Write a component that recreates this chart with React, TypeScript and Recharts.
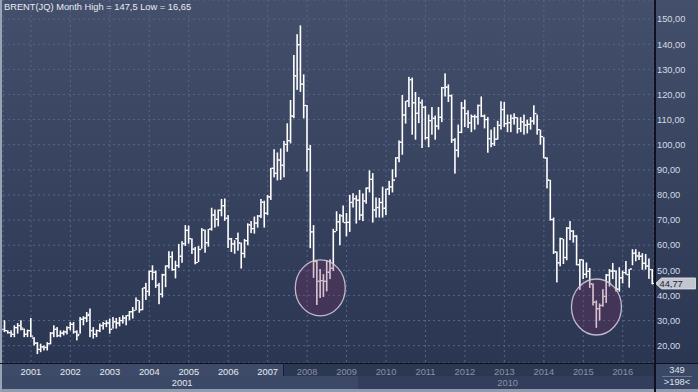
import React from 'react';
import { ComposedChart, Bar, XAxis, YAxis, CartesianGrid, ReferenceLine, ReferenceDot } from 'recharts';

// Brent monthly bars, Jan 2001 - Jun 2017 (one line per year)
const startYear = 2001;
const barCount = 198;

const opens = [
  26.5, 26.0, 25.2, 24.5, 27.2, 28.0, 26.5, 24.5, 26.0, 23.0, 21.0, 18.5,
  19.5, 19.3, 20.8, 25.0, 26.5, 24.0, 25.0, 25.5, 27.2, 28.5, 25.5, 24.5,
  30.5, 31.0, 32.5, 26.0, 24.5, 26.0, 28.0, 28.8, 29.0, 26.5, 29.5, 29.0,
  30.0, 31.0, 32.0, 33.5, 34.0, 38.0, 34.3, 43.0, 41.6, 49.6, 49.2, 44.0,
  40.5, 48.2, 51.7, 55.4, 50.3, 51.9, 55.6, 60.6, 65.9, 62.6, 58.4, 53.1,
  58.3, 66.0, 61.0, 66.4, 72.0, 70.3, 73.9, 75.7, 70.7, 62.5, 60.5, 62.6,
  60.9, 56.7, 61.8, 68.1, 66.6, 68.8, 71.6, 77.1, 72.7, 79.2, 90.6, 88.6,
  93.9, 91.8, 100.1, 101.6, 111.4, 127.4, 139.8, 124.1, 115.6, 98.2, 65.3, 53.5,
  45.6, 45.9, 45.6, 49.2, 50.8, 65.4, 69.3, 71.7, 69.0, 69.1, 77.0, 78.5,
  77.9, 72.0, 77.6, 82.7, 86.2, 74.0, 75.0, 77.0, 74.7, 82.3, 83.2, 85.9,
  94.8, 101.0, 111.8, 117.4, 125.9, 116.7, 112.5, 116.7, 114.9, 102.8, 109.6, 110.5,
  107.4, 110.9, 122.7, 122.9, 119.5, 101.9, 97.8, 104.9, 114.6, 112.4, 108.7, 111.2,
  111.1, 115.6, 111.4, 110.0, 102.4, 100.4, 102.2, 107.7, 114.0, 108.4, 108.8, 110.5,
  110.8, 106.4, 109.1, 107.8, 108.1, 109.4, 112.4, 106.0, 103.2, 94.7, 85.9, 70.2,
  57.3, 53.0, 62.6, 55.1, 66.8, 65.6, 63.6, 52.2, 54.2, 48.4, 49.6, 44.6,
  37.3, 34.7, 36.0, 39.6, 48.1, 49.7, 49.7, 42.5, 47.0, 49.1, 48.3, 50.5,
  56.8, 55.7, 55.6, 52.8, 51.7, 50.3,
];

const highs = [
  30.1, 26.1, 26.1, 28.1, 29.0, 30.1, 26.8, 26.4, 31.0, 23.4, 21.4, 20.8,
  20.1, 21.4, 25.4, 28.1, 27.4, 26.1, 26.1, 27.7, 29.4, 29.4, 26.1, 31.4,
  31.7, 33.4, 34.8, 27.4, 26.4, 28.8, 29.4, 30.1, 30.8, 31.4, 31.0, 31.4,
  32.1, 32.1, 33.8, 35.4, 39.2, 38.0, 43.0, 45.0, 49.9, 52.0, 49.9, 45.0,
  48.6, 52.0, 57.6, 57.5, 53.8, 60.5, 61.6, 68.0, 67.8, 62.7, 59.3, 59.7,
  66.8, 66.2, 66.4, 74.9, 74.2, 74.2, 78.4, 78.6, 72.0, 62.9, 62.0, 65.0,
  61.0, 62.5, 68.7, 69.6, 71.4, 72.0, 78.4, 77.7, 80.0, 90.8, 98.2, 96.9,
  98.5, 101.5, 108.5, 117.8, 135.7, 144.0, 147.5, 128.0, 115.8, 99.9, 68.0, 54.1,
  50.5, 48.5, 54.0, 54.3, 66.5, 73.5, 72.4, 75.8, 72.8, 80.0, 80.7, 79.9,
  82.0, 80.6, 83.0, 89.8, 88.7, 79.0, 78.8, 83.3, 82.5, 85.6, 90.2, 95.0,
  101.7, 119.8, 117.4, 127.0, 126.7, 121.0, 119.0, 118.0, 115.4, 112.0, 115.0, 111.6,
  115.0, 123.0, 128.4, 124.0, 120.0, 102.6, 108.0, 117.0, 117.9, 113.7, 112.0, 112.0,
  116.0, 119.2, 112.0, 111.0, 106.0, 107.0, 109.5, 117.3, 117.0, 112.0, 112.0, 112.5,
  110.9, 111.0, 112.0, 110.0, 111.0, 115.7, 112.0, 106.0, 103.0, 95.0, 86.0, 71.0,
  57.5, 63.0, 62.5, 67.2, 69.6, 66.0, 64.0, 54.5, 54.3, 53.1, 50.9, 44.8,
  38.0, 36.8, 42.5, 48.5, 50.5, 52.9, 50.0, 51.2, 49.9, 53.7, 50.5, 58.4,
  58.4, 57.4, 56.8, 56.5, 54.7, 50.5,
];

const lows = [
  25.4, 24.8, 23.4, 23.4, 24.8, 26.1, 23.4, 23.4, 23.4, 20.1, 16.65, 17.4,
  18.1, 18.1, 20.5, 23.4, 23.4, 23.4, 24.1, 24.5, 26.1, 24.8, 22.1, 24.8,
  28.1, 29.4, 23.4, 22.8, 23.4, 25.4, 26.4, 27.4, 24.8, 26.8, 26.8, 27.7,
  28.8, 28.1, 30.1, 30.8, 34.1, 33.1, 34.1, 38.2, 39.8, 46.1, 43.0, 36.5,
  39.2, 43.3, 50.7, 49.8, 46.8, 51.0, 53.0, 59.7, 60.6, 56.5, 52.4, 53.3,
  58.6, 57.0, 59.4, 65.8, 67.0, 67.5, 71.5, 69.7, 58.9, 57.3, 56.6, 57.8,
  50.7, 55.0, 60.0, 64.8, 64.6, 67.0, 70.8, 67.0, 72.0, 78.0, 87.0, 85.8,
  86.0, 87.0, 97.2, 100.5, 110.6, 121.8, 121.0, 110.5, 89.3, 58.8, 47.0, 36.2,
  39.0, 39.4, 41.6, 46.5, 49.7, 65.6, 60.0, 69.0, 63.5, 65.3, 75.0, 68.6,
  70.0, 69.6, 76.5, 81.0, 69.0, 71.0, 71.0, 71.0, 72.0, 80.0, 81.0, 87.0,
  93.0, 96.0, 108.4, 115.0, 104.0, 102.0, 108.6, 98.7, 102.0, 99.0, 104.0, 102.0,
  106.0, 109.0, 119.2, 117.0, 100.7, 88.5, 95.0, 104.6, 107.0, 106.6, 105.0, 106.0,
  108.0, 111.0, 106.5, 96.8, 99.0, 99.5, 102.0, 106.0, 107.0, 105.0, 105.0, 108.0,
  104.5, 105.0, 104.0, 104.5, 106.0, 108.0, 104.0, 100.0, 94.6, 82.6, 69.8, 56.5,
  45.2, 51.6, 52.5, 54.0, 62.0, 61.0, 52.0, 42.2, 46.5, 47.0, 43.0, 36.0,
  27.1, 30.0, 35.5, 37.0, 43.5, 46.5, 41.5, 41.5, 44.8, 48.3, 43.1, 52.0,
  53.6, 54.1, 50.2, 50.3, 46.6, 44.4,
];

const closes = [
  26.0, 25.2, 24.5, 27.2, 28.0, 27.0, 24.5, 26.0, 23.8, 21.0, 18.5, 19.5,
  19.3, 20.8, 25.0, 26.5, 24.0, 25.0, 25.5, 27.2, 28.5, 25.5, 24.0, 30.5,
  31.0, 32.0, 26.0, 24.5, 26.0, 28.0, 28.8, 29.0, 26.5, 29.5, 29.0, 30.0,
  31.0, 32.0, 33.5, 34.0, 38.0, 34.3, 43.0, 41.6, 49.6, 49.2, 44.0, 40.5,
  48.2, 51.7, 55.4, 50.3, 51.9, 55.6, 60.6, 65.9, 62.6, 58.4, 53.1, 58.3,
  66.0, 61.0, 66.4, 72.0, 70.3, 73.9, 75.7, 70.7, 62.5, 60.5, 62.6, 60.9,
  56.7, 61.8, 68.1, 66.6, 68.8, 71.6, 77.1, 72.7, 79.2, 90.6, 88.6, 93.9,
  91.8, 100.1, 101.6, 111.4, 127.4, 139.8, 124.1, 115.6, 98.2, 65.3, 53.5, 45.6,
  45.9, 45.6, 49.2, 50.8, 65.4, 69.3, 71.7, 69.0, 69.1, 77.0, 78.5, 77.9,
  72.0, 77.6, 82.7, 86.2, 74.0, 75.0, 77.0, 74.7, 82.3, 83.2, 85.9, 94.8,
  101.0, 111.8, 117.4, 125.9, 116.7, 112.5, 116.7, 114.9, 102.8, 109.6, 110.5, 107.4,
  110.9, 122.7, 122.9, 119.5, 101.9, 97.8, 104.9, 114.6, 112.4, 108.7, 111.2, 111.1,
  115.6, 111.4, 110.0, 102.4, 100.4, 102.2, 107.7, 114.0, 108.4, 108.8, 110.5, 110.8,
  106.4, 109.1, 107.8, 108.1, 109.4, 112.4, 106.0, 103.2, 94.7, 85.9, 70.2, 57.3,
  53.0, 62.6, 55.1, 66.8, 65.6, 63.6, 52.2, 54.2, 48.4, 49.6, 44.6, 37.3,
  34.7, 36.0, 39.6, 48.1, 49.7, 49.7, 42.5, 47.0, 49.1, 48.3, 50.5, 56.8,
  55.7, 55.6, 52.8, 51.7, 50.3, 44.77,
];

const yearTicks = [
  '2001-09', '2002-09', '2003-09', '2004-09', '2005-09', '2006-09', '2007-09', '2008-09',
  '2009-09', '2010-09', '2011-09', '2012-09', '2013-09', '2014-09', '2015-09', '2016-09',
];
const dimFromYear = 2008;

const decadeTicks = ['2005-07', '2013-10'];
const decadeNames = ['2001', '2010'];

const priceTicks = [20, 30, 40, 50, 60, 70, 80, 90, 100, 110, 120, 130, 140, 150];

// circled lows
const circleMonths = ['2009-01', '2016-01'];
const circleLevels = [43, 35.4];

const months: string[] = [];
for (let k = 0; k < barCount; k++) {
  const yr = startYear + Math.floor(k / 12);
  const mo = (k % 12) + 1;
  months.push(`${yr}-${mo < 10 ? '0' + mo : mo}`);
}

const data = months.map((m, i) => ({
  m,
  range: [lows[i], highs[i]],
  open: opens[i],
  high: highs[i],
  low: lows[i],
  close: closes[i],
}));

const lastClose = closes[closes.length - 1];
const fmt = (v: number) => v.toFixed(2).replace('.', ',');

const OhlcShape = (props: any) => {
  const { x, y, width, height, payload } = props;
  if (x == null || y == null) return null;
  const top = Math.min(y, y + height);
  const h = Math.abs(height);
  const cx = x + width / 2;
  const span = payload.high - payload.low || 1;
  const yOf = (v: number) => top + ((payload.high - v) / span) * h;
  const yo = yOf(payload.open);
  const yc = yOf(payload.close);
  return (
    <g fill="#ffffff">
      <rect x={cx - 0.8} y={top} width={1.6} height={Math.max(h, 1)} />
      <rect x={cx - 2.3} y={yo - 0.6} width={1.6} height={1.2} />
      <rect x={cx + 0.7} y={yc - 0.6} width={1.6} height={1.2} />
    </g>
  );
};

const YearTick = (props: any) => {
  const { x, y, payload } = props;
  const yr = Number(String(payload.value).slice(0, 4));
  return (
    <text x={x} y={y} dy="0.71em" textAnchor="middle" fontSize={9.3} fill={yr >= dimFromYear ? '#8892a8' : '#e6eaf2'}>
      {yr}
    </text>
  );
};

const DecadeTick = (props: any) => {
  const { x, y, payload } = props;
  const k = decadeTicks.indexOf(payload.value);
  return (
    <text x={x} y={y} dy="0.71em" textAnchor="middle" fontSize={9.3} fill={k === 0 ? '#e6eaf2' : '#8892a8'}>
      {decadeNames[k]}
    </text>
  );
};

const PriceTag = (props: any) => {
  const vb = props.viewBox || {};
  const x0 = vb.x + vb.width + 1.5;
  const yc = vb.y;
  const pts = `${x0},${yc} ${x0 + 6},${yc - 5.5} ${x0 + 40},${yc - 5.5} ${x0 + 40},${yc + 5.5} ${x0 + 6},${yc + 5.5}`;
  return (
    <g>
      <polygon points={pts} fill="#c2c6ce" stroke="#e4e6ea" strokeWidth={0.8} />
      <text x={x0 + 4} y={yc} dy="0.36em" fontSize={9.3} fill="#1b2340">
        {fmt(lastClose)}
      </text>
    </g>
  );
};

const Circle = (props: any) => (
  <ellipse
    cx={props.cx}
    cy={props.cy}
    rx={25}
    ry={28}
    fill="#7a2c5c"
    fillOpacity={0.28}
    stroke="#cfc8d6"
    strokeOpacity={0.9}
    strokeWidth={1.3}
  />
);

export default function App() {
  return (
    <div style={{ position: 'relative', width: 698, height: 392, overflow: 'hidden', fontFamily: '"Liberation Sans", Arial, sans-serif' }}>
      <style>{'body{margin:0}'}</style>
      {/* backgrounds */}
      <div style={{ position: 'absolute', left: 0, top: 0, width: 698, height: 363, background: 'linear-gradient(#434f6b, #2b3652)' }} />
      <div style={{ position: 'absolute', left: 0, top: 363, width: 283, height: 13, background: '#3d4b68' }} />
      <div style={{ position: 'absolute', left: 283, top: 363, width: 372, height: 13, background: '#2c3852', borderLeft: '1px solid #1a2033' }} />
      <div style={{ position: 'absolute', left: 0, top: 376, width: 358, height: 13, background: '#3b4966' }} />
      <div style={{ position: 'absolute', left: 358, top: 376, width: 297, height: 13, background: '#323e5b' }} />
      <div style={{ position: 'absolute', left: 655, top: 363, width: 43, height: 26, background: '#3a4765' }} />
      <div style={{ position: 'absolute', left: 0, top: 389, width: 698, height: 3, background: '#919bb0' }} />
      <div style={{ position: 'absolute', left: 0, top: 0, width: 2, height: 392, background: '#9aa3b5' }} />

      <div style={{ position: 'absolute', left: 0, top: 0 }}>
        <ComposedChart width={698} height={392} data={data} margin={{ top: 0, right: 0, left: 3, bottom: 0 }} barCategoryGap={0}>
          <CartesianGrid stroke="#56668a" strokeDasharray="2 3" />
          <XAxis
            dataKey="m"
            ticks={yearTicks}
            interval={0}
            height={13}
            axisLine={false}
            tickLine={false}
            tickSize={0}
            tickMargin={5}
            tick={<YearTick />}
          />
          <XAxis
            xAxisId="dec"
            dataKey="m"
            ticks={decadeTicks}
            interval={0}
            height={16}
            axisLine={false}
            tickLine={false}
            tickSize={0}
            tickMargin={3}
            tick={<DecadeTick />}
          />
          <YAxis
            orientation="right"
            width={44}
            type="number"
            domain={[13.1, 157.6]}
            allowDataOverflow
            ticks={priceTicks}
            interval={0}
            axisLine={false}
            tickLine={false}
            tickSize={0}
            tickMargin={3}
            tickFormatter={fmt}
            tick={{ fontSize: 9.3, fill: '#d4dae6', textAnchor: 'start' }}
          />
          <Bar dataKey="range" isAnimationActive={false} shape={<OhlcShape />} fill="#ffffff" />
          {circleMonths.map((m, k) => (
            <ReferenceDot key={m} x={m} y={circleLevels[k]} shape={<Circle />} />
          ))}
          <ReferenceLine y={lastClose} stroke="none" label={<PriceTag />} />
        </ComposedChart>
      </div>

      {/* frame lines */}
      <div style={{ position: 'absolute', left: 0, top: 362.5, width: 698, height: 1.5, background: '#0e1220' }} />
      <div style={{ position: 'absolute', left: 654, top: 0, width: 1.5, height: 392, background: '#0e1220' }} />

      <div style={{ position: 'absolute', left: 4, top: 2, fontSize: 9.3, lineHeight: '11px', color: '#e8ecf4', whiteSpace: 'nowrap' }}>
        BRENT(JQ) Month High = 147,5 Low = 16,65
      </div>
      <div style={{ position: 'absolute', left: 656, top: 365, width: 42, textAlign: 'center', fontSize: 9.3, lineHeight: '11px', color: '#dfe4ee' }}>
        <div style={{ borderBottom: '1px solid #6c7893', margin: '0 6px' }}>349</div>
        <div>&gt;198&lt;</div>
      </div>
    </div>
  );
}
